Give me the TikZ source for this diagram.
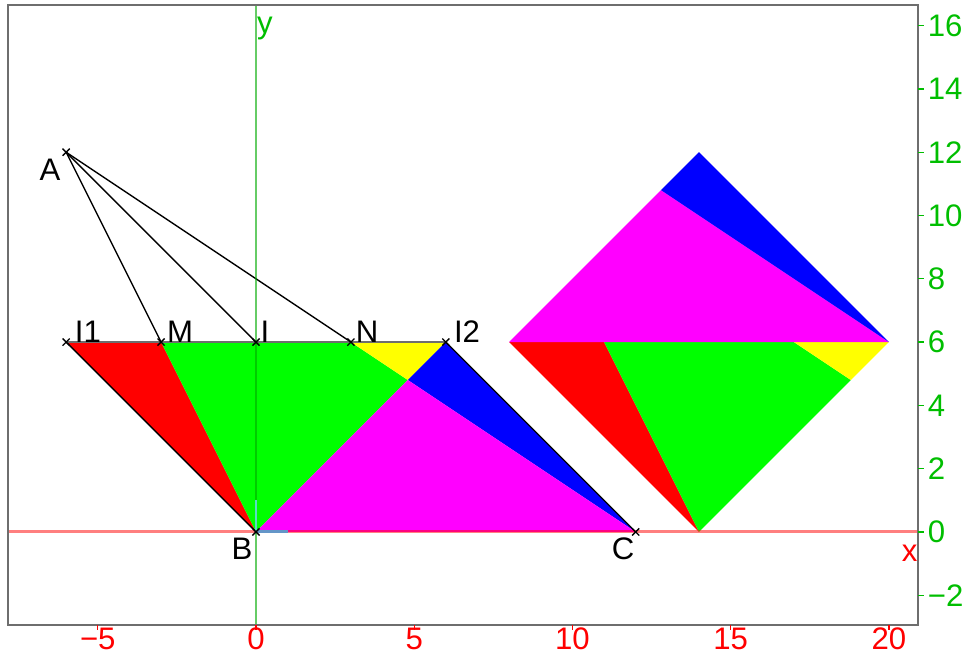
\documentclass[tikz,border=0pt]{standalone}
\usepackage{fontspec}
\setmainfont{Liberation Sans}
\definecolor{achseX}{RGB}{255, 0, 0}
\definecolor{achseY}{RGB}{0, 170, 0}
\definecolor{zahlY}{RGB}{0, 190, 0}
\definecolor{einheitX}{RGB}{100, 150, 200}
\definecolor{einheitY}{RGB}{90, 220, 200}
\definecolor{rahmen}{RGB}{110, 110, 110}
\definecolor{teilRot}{RGB}{255, 0, 0}
\definecolor{teilGruen}{RGB}{0, 255, 0}
\definecolor{teilGelb}{RGB}{255, 255, 0}
\definecolor{teilBlau}{RGB}{0, 0, 255}
\definecolor{teilMagenta}{RGB}{255, 0, 255}

\tikzset{
	lbl/.style={font=\fontsize{14}{16}\selectfont, inner sep=0pt},
	strecke/.style={black, line width=0.6pt},
	kreuz/.style={black, line width=0.6pt}
}

\begin{document}
\begin{tikzpicture}[x=0.5cm, y=0.5cm]
		\useasboundingbox (-8.09,-3.95) rectangle (22.47,16.81);
		
		% Punkte
		\coordinate (A) at (-6,12);
		\coordinate (I1) at (-6,6);
		\coordinate (M) at (-3,6);
		\coordinate (I) at (0,6);
		\coordinate (N) at (3,6);
		\coordinate (I2) at (6,6);
		\coordinate (B) at (0,0);
		\coordinate (C) at (12,0);
		\coordinate (P) at (4.8,4.8);
		
		% --- Zerlegung links ---
		\fill[teilRot] (I1) -- (M) -- (B) -- cycle;
		\fill[teilGruen] (M) -- (N) -- (P) -- (B) -- cycle;
		\fill[teilGelb] (N) -- (I2) -- (P) -- cycle;
		\fill[teilBlau] (I2) -- (C) -- (P) -- cycle;
		\fill[teilMagenta] (B) -- (P) -- (C) -- cycle;
		
		% --- Zusammensetzung rechts ---
		\coordinate (R1) at (8,6);
		\coordinate (RM) at (11,6);
		\coordinate (RN) at (17,6);
		\coordinate (R2) at (20,6);
		\coordinate (RP) at (18.8,4.8);
		\coordinate (RB) at (14,0);
		\coordinate (RQ) at (12.8,10.8);
		\coordinate (RT) at (14,12);
		\fill[teilRot] (R1) -- (RM) -- (RB) -- cycle;
		\fill[teilGruen] (RM) -- (RN) -- (RP) -- (RB) -- cycle;
		\fill[teilGelb] (RN) -- (R2) -- (RP) -- cycle;
		\fill[teilMagenta] (R1) -- (R2) -- (RQ) -- cycle;
		\fill[teilBlau] (RQ) -- (RT) -- (R2) -- cycle;
		
		% Strecken
		\draw[strecke] (B) -- (I1);
		\draw[strecke, rahmen] (I1) -- (I2);
		\draw[strecke] (I2) -- (C);
		\draw[strecke] (A) -- (M);
		\draw[strecke] (A) -- (I);
		\draw[strecke] (A) -- (N);
		
		% Achsen
		\draw[achseX, opacity=0.5, line width=1.3pt] (-7.84,0) -- (20.92,0);
		\draw[achseY, opacity=0.6, line width=1.3pt] (0,-2.94) -- (0,16.64);
		\draw[einheitX, line width=1.3pt] (B) -- (1,0);
		\draw[einheitY, line width=1.3pt] (B) -- (0,1);
		
		% Kreuze
		\foreach \p in {A, I1, M, I, N, I2, B, C} {
			\draw[kreuz] ([shift={(-1.6pt,-1.6pt)}]\p) -- ([shift={(1.6pt,1.6pt)}]\p);
			\draw[kreuz] ([shift={(-1.6pt,1.6pt)}]\p) -- ([shift={(1.6pt,-1.6pt)}]\p);
		}
		
		% Beschriftungen
		\node[lbl] (lA) at (-6.51,11.44) {A};
		\node[lbl] (lI1) at (-5.31,6.32) {I1};
		\node[lbl] (lM) at (-2.40,6.32) {M};
		\node[lbl] (lI) at (0.28,6.32) {I};
		\node[lbl] (lN) at (3.51,6.32) {N};
		\node[lbl] (lI2) at (6.67,6.32) {I2};
		\node[lbl] (lB) at (-0.44,-0.54) {B};
		\node[lbl] (lC) at (11.6,-0.54) {C};
		\node[lbl, text=zahlY] (ly) at (0.28,15.92) {y};
		\node[lbl, text=achseX] (lx) at (20.66,-0.66) {x};
		
		% Rahmen und Skalen
		\draw[rahmen, line width=1pt] (-7.84,-2.94) rectangle (20.92,16.64);
		\foreach \x/\t in {-5/−5, 0/0, 5/5, 10/10, 15/15, 20/20} {
			\draw[achseX, line width=0.6pt] (\x,-2.94) -- (\x,-3.1);
			\node[lbl, text=achseX, anchor=north] at (\x,-3.02) {\t};
		}
		\foreach \y/\t in {-2/−2, 0/0, 2/2, 4/4, 6/6, 8/8, 10/10, 12/12, 14/14, 16/16} {
			\draw[zahlY, line width=0.6pt] (20.92,\y) -- (21.1,\y);
			\node[lbl, text=zahlY, anchor=west] at (21.22,\y) {\t};
		}
		
	\end{tikzpicture}
\end{document}
